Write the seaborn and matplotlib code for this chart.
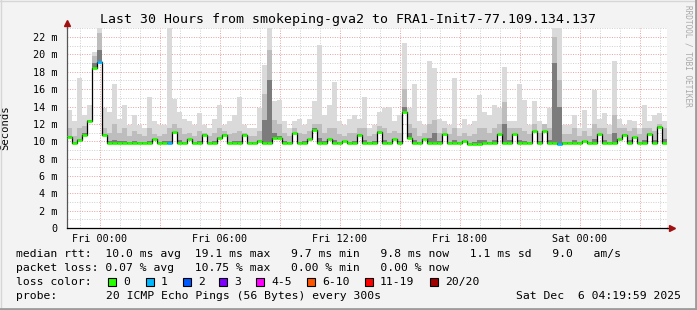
import numpy as np
import pandas as pd
import matplotlib
matplotlib.use("Agg")
import matplotlib.pyplot as plt
from matplotlib.patches import Rectangle
from matplotlib.lines import Line2D
from matplotlib.ticker import MultipleLocator, FixedLocator
import seaborn as sns

# ---------------- data (15-minute bins, hours relative to Fri 00:00) -------------
t_start = -1.65
bin_hours = 0.25

median_ms = [10.5, 9.75, 10.1, 10.7, 12.3, 18.4, 19.1, 10.7, 9.8, 9.8,
             9.8, 9.8, 9.8, 9.8, 9.8, 9.8, 9.8, 10.2, 9.8, 9.8,
             9.8, 11.1, 9.8, 9.8, 10.2, 9.8, 9.8, 10.7, 9.8, 9.8,
             10.4, 10.7, 9.8, 9.8, 9.8, 10.7, 9.8, 9.8, 10.0, 9.8,
             9.8, 10.4, 10.4, 9.8, 9.8, 11.0, 9.8, 9.8, 10.2, 11.3,
             9.8, 9.8, 10.2, 9.8, 9.8, 10.0, 9.8, 9.8, 10.7, 9.8,
             9.8, 9.8, 11.1, 9.8, 9.8, 10.3, 9.8, 13.4, 10.4, 9.8,
             9.8, 10.2, 9.8, 9.8, 9.8, 10.8, 9.8, 9.8, 9.8, 10.0,
             9.7, 9.7, 9.7, 9.8, 9.8, 9.8, 10.8, 9.8, 9.8, 10.8,
             9.8, 9.8, 9.8, 11.2, 9.8, 11.2, 9.8, 9.8, 9.7, 9.8,
             9.8, 9.8, 9.8, 10.0, 9.8, 9.8, 10.8, 9.8, 9.8, 9.8,
             10.2, 10.7, 9.8, 10.5, 9.8, 9.8, 10.8, 9.8, 11.6, 9.8]

smoke_max = [13.6, 12.3, 17.3, 13.0, 14.2, 20.3, 23.5, 13.8, 13.4, 16.6,
             12.6, 14.2, 11.9, 13.0, 11.9, 11.5, 15.1, 12.3, 11.9, 11.9,
             23.5, 14.9, 13.4, 12.6, 12.3, 11.9, 13.2, 11.9, 11.5, 12.6,
             14.2, 11.9, 12.3, 13.0, 15.1, 11.9, 11.5, 11.5, 13.8, 18.8,
             23.5, 14.6, 14.8, 12.3, 11.5, 12.3, 12.6, 11.9, 12.6, 14.6,
             21.1, 13.0, 14.2, 16.8, 12.3, 11.9, 12.6, 13.0, 12.6, 15.1,
             11.5, 11.9, 13.4, 13.8, 14.0, 12.3, 13.0, 21.3, 13.8, 16.6,
             12.3, 11.9, 19.3, 18.4, 12.6, 12.3, 11.9, 17.3, 11.5, 12.6,
             11.9, 12.3, 15.3, 13.4, 13.0, 14.2, 13.8, 18.6, 12.3, 12.3,
             16.6, 14.8, 11.9, 14.6, 12.3, 11.9, 13.8, 23.5, 23.5, 11.9,
             11.9, 13.0, 11.5, 13.6, 11.5, 15.9, 12.6, 13.2, 11.9, 19.3,
             12.6, 11.9, 12.4, 12.3, 11.5, 14.2, 12.3, 13.0, 13.2, 12.3]

smoke_mid = [11.5, 10.6, 11.5, 11.8, 12.5, 19.8, 22.5, 11.5, 11.0, 12.0,
             11.0, 11.5, 10.6, 11.2, 10.8, 10.6, 11.5, 10.8, 10.6, 10.8,
             11.5, 12.0, 11.5, 10.8, 11.0, 10.6, 11.2, 11.0, 10.6, 11.0,
             11.5, 11.2, 10.8, 11.0, 11.2, 11.0, 10.6, 10.6, 11.2, 15.5,
             20.5, 12.5, 12.0, 11.0, 10.6, 11.5, 11.0, 10.8, 11.2, 12.0,
             12.0, 11.0, 11.5, 11.5, 10.8, 10.6, 11.0, 11.0, 11.5, 11.5,
             10.6, 10.8, 11.8, 11.5, 11.0, 11.2, 11.0, 16.0, 12.0, 11.5,
             10.6, 11.0, 12.0, 12.5, 11.0, 11.5, 10.8, 11.5, 10.6, 11.0,
             10.6, 10.8, 11.5, 11.5, 11.0, 11.5, 12.0, 14.5, 11.5, 11.5,
             11.5, 11.2, 10.8, 12.0, 11.0, 12.0, 11.5, 22.0, 17.0, 10.8,
             10.8, 11.5, 10.6, 11.2, 10.6, 12.0, 11.5, 11.5, 10.8, 13.0,
             11.5, 11.5, 11.2, 11.5, 10.8, 11.5, 11.5, 11.2, 12.0, 11.5]

smoke_dark = [10.6, 9.9, 10.3, 11.0, 12.5, 19.0, 20.5, 10.8, 10.0, 10.1,
              10.0, 10.0, 9.9, 10.0, 9.9, 9.9, 10.0, 10.3, 9.9, 10.0,
              10.0, 11.0, 10.1, 9.9, 10.3, 9.9, 10.0, 10.8, 9.9, 10.0,
              10.5, 10.8, 9.9, 10.0, 10.0, 10.8, 9.9, 9.9, 10.1, 12.5,
              17.0, 11.0, 10.6, 10.0, 9.9, 11.0, 9.9, 10.0, 10.3, 11.5,
              10.4, 10.0, 10.3, 10.1, 9.9, 10.0, 9.9, 10.0, 10.8, 10.1,
              9.9, 10.0, 11.2, 10.1, 9.9, 10.3, 10.0, 14.0, 11.0, 10.1,
              9.9, 10.2, 10.4, 11.0, 10.0, 10.8, 9.9, 10.1, 9.9, 10.0,
              9.8, 9.9, 10.1, 10.1, 9.9, 10.1, 10.8, 12.0, 10.1, 10.8,
              10.1, 10.0, 9.9, 11.2, 10.0, 11.2, 10.1, 19.0, 14.0, 9.9,
              9.9, 10.1, 9.9, 10.0, 9.9, 10.2, 10.8, 10.1, 9.9, 11.0,
              10.2, 10.8, 10.1, 10.5, 9.9, 10.1, 11.0, 10.1, 11.8, 10.2]

loss_event_bins = [6, 20, 98]
loss_event_class = [1, 1, 1]

loss_labels = ["0", "1", "2", "3", "4-5", "6-10", "11-19", "20/20"]
loss_colors = ["#26ff00", "#00b8ff", "#0059ff", "#7e00ff", "#ff00ff",
               "#ff5500", "#ff0000", "#a10000"]

tick_hours = [0, 6, 12, 18, 24]
tick_labels = ["Fri 00:00", "Fri 06:00", "Fri 12:00", "Fri 18:00", "Sat 00:00"]

title = "Last 30 Hours from smokeping-gva2 to FRA1-Init7-77.109.134.137"
legend_line1 = "median rtt:  10.0 ms avg  19.1 ms max   9.7 ms min   9.8 ms now   1.1 ms sd   9.0   am/s"
legend_line2 = "packet loss: 0.07 % avg   10.75 % max   0.00 % min   0.00 % now"
probe_text = "20 ICMP Echo Pings (56 Bytes) every 300s"
date_text = "Sat Dec  6 04:19:59 2025"

# ---------------- figure ------------------------------------------------------
W, H = 697, 310
MONO = "DejaVu Sans Mono"
plt.rcParams["font.family"] = [MONO]

fig = plt.figure(figsize=(W / 100, H / 100), dpi=100, facecolor="#f3f3f3")
ax = fig.add_axes([67 / W, 82 / H, 600 / W, 200 / H])
ax.set_facecolor("white")

n = len(median_ms)
edges = t_start + bin_hours * np.arange(n + 1)
left, right = edges[:-1], edges[1:]
med = np.array(median_ms)

def step_vals(v):
    v = list(v)
    return np.array(v + [v[-1]])

# smoke layers
ax.fill_between(edges, step_vals(med), step_vals(smoke_max), step="post",
                color="#dadada", lw=0, zorder=1)
ax.fill_between(edges, step_vals(med), step_vals(smoke_mid), step="post",
                color="#bdbdbd", lw=0, zorder=2)
ax.fill_between(edges, step_vals(med), step_vals(np.maximum(smoke_dark, med)), step="post",
                color="#7c7c7c", lw=0, zorder=3)

# median line (black steps) via seaborn
df = pd.DataFrame({"t": edges, "median": step_vals(med)})
sns.lineplot(data=df, x="t", y="median", drawstyle="steps-post", color="black",
             lw=0.9, ax=ax, legend=False, estimator=None, zorder=4)

# loss colored median segments
cls = np.zeros(n, dtype=int)
for b, c in zip(loss_event_bins, loss_event_class):
    cls[b] = c
seg_colors = [loss_colors[c] for c in cls]
ax.hlines(med, left, right, colors=seg_colors, lw=1.9, zorder=5)

ax.set_xlim(t_start, t_start + 30)
ax.set_ylim(0, 23.05)

# grid
ax.xaxis.set_major_locator(FixedLocator(np.arange(0.0, 28.5, 3)))
ax.xaxis.set_minor_locator(FixedLocator(np.arange(-1, 29, 1)))
ax.yaxis.set_major_locator(MultipleLocator(2))
ax.yaxis.set_minor_locator(MultipleLocator(1))
ax.grid(which="minor", color="#cfcfcf", lw=0.7, linestyle=(0, (1, 1.5)), zorder=0.5)
ax.grid(which="major", color="#e8a0a0", lw=0.7, linestyle=(0, (1, 1.5)), zorder=0.6)
ax.set_axisbelow(True)

xt = np.arange(0.0, 28.5, 3)
ax.set_xticklabels([tick_labels[tick_hours.index(int(h))] if int(h) in tick_hours else "" for h in xt])
ax.set_yticklabels(["0" if v == 0 else f"{int(v)} m" for v in ax.get_yticks()])
ax.tick_params(axis="both", which="both", length=0, labelsize=7.3, colors="black")
ax.tick_params(axis="y", pad=7)
ax.tick_params(axis="x", pad=4)

for s in ["top", "right"]:
    ax.spines[s].set_visible(False)
ax.spines["left"].set_color("#555555")
ax.spines["left"].set_linewidth(0.9)
ax.spines["bottom"].set_color("black")
ax.spines["bottom"].set_linewidth(0.9)
ax.set_xlabel("")
ax.set_ylabel("Seconds", fontsize=7.6)
ax.yaxis.set_label_coords((10 - 67) / 600, 0.5)

# axis arrows
ax.add_line(Line2D([0, 0], [1, 1.02], transform=ax.transAxes, color="#555555", lw=0.9, clip_on=False))
ax.plot([0], [1.025], marker="^", ms=4.5, color="#a01010", transform=ax.transAxes, clip_on=False, zorder=10)
ax.add_line(Line2D([1, 1.005], [0, 0], transform=ax.transAxes, color="black", lw=0.9, clip_on=False))
ax.plot([1.008], [0], marker=">", ms=4.5, color="#a01010", transform=ax.transAxes, clip_on=False, zorder=10)

# texts
def ftext(x, y, s, **kw):
    fig.text(x / W, 1 - y / H, s, **kw)

ftext(348, 19, title, ha="center", va="center", fontsize=9.5, family=MONO)
ftext(688, 5, "RRDTOOL / TOBI OETIKER", ha="center", va="top", fontsize=5.6,
      rotation=270, color="#a8a8a8", family=MONO)

FS = 8.2
ftext(16, 254, legend_line1, ha="left", va="center", fontsize=FS, family=MONO)
ftext(16, 268, legend_line2, ha="left", va="center", fontsize=FS, family=MONO)
ftext(16, 282, "loss color:", ha="left", va="center", fontsize=FS, family=MONO)
box_x = [108, 146, 183, 219, 256, 307, 365, 430]
for bx, lab, col in zip(box_x, loss_labels, loss_colors):
    fig.add_artist(Rectangle((bx / W, 1 - 286 / H), 8 / W, 8 / H, transform=fig.transFigure,
                             facecolor=col, edgecolor="black", lw=0.8))
    ftext(bx + 15, 282, lab, ha="left", va="center", fontsize=FS, family=MONO)
ftext(16, 296, "probe:", ha="left", va="center", fontsize=FS, family=MONO)
ftext(106, 296, probe_text, ha="left", va="center", fontsize=FS, family=MONO)
ftext(681, 296, date_text, ha="right", va="center", fontsize=FS, family=MONO)

# frame
fig.add_artist(Line2D([0, 1], [1 - 0.5 / H, 1 - 0.5 / H], transform=fig.transFigure, color="#d6d6d6", lw=1))
fig.add_artist(Line2D([0.5 / W, 0.5 / W], [0, 1], transform=fig.transFigure, color="#d6d6d6", lw=1))
fig.add_artist(Line2D([0, 1], [1.5 / H, 1.5 / H], transform=fig.transFigure, color="#9c9c9c", lw=2))
fig.add_artist(Line2D([1 - 1.5 / W, 1 - 1.5 / W], [0, 1], transform=fig.transFigure, color="#9c9c9c", lw=2))

fig.savefig("out.png", dpi=100, facecolor=fig.get_facecolor())
